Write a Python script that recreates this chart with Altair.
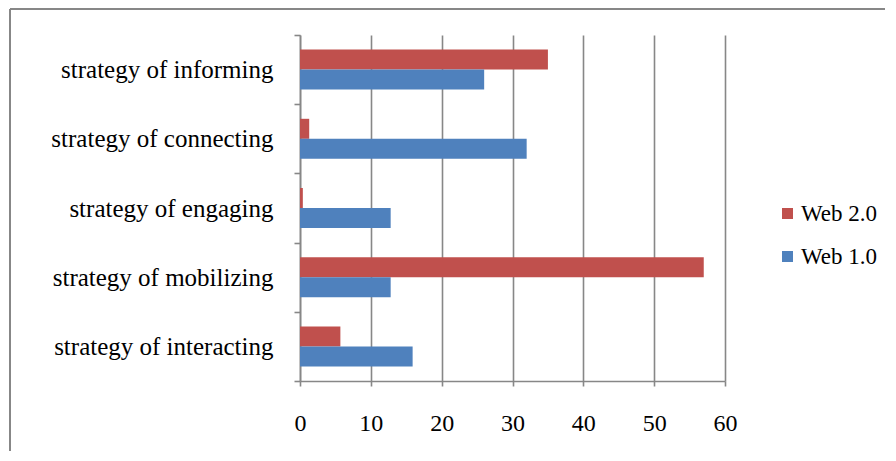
import altair as alt
import pandas as pd

categories = ["strategy of informing", "strategy of connecting", "strategy of engaging",
              "strategy of mobilizing", "strategy of interacting"]
series = ["Web 2.0", "Web 1.0"]
web20 = [35, 1.3, 0.4, 57, 5.7]
web10 = [26, 32, 12.8, 12.8, 15.9]
colors = ["#C0504D", "#4F81BD"]
x_ticks = [0, 10, 20, 30, 40, 50, 60]

rows = []
for c, a, b in zip(categories, web20, web10):
    rows.append({"category": c, "series": "Web 2.0", "value": a})
    rows.append({"category": c, "series": "Web 1.0", "value": b})
df = pd.DataFrame(rows)

FONT = "'Liberation Serif', 'Times New Roman', serif"
GRAY = "#878787"

bars = alt.Chart(df).mark_bar().encode(
    x=alt.X("value:Q",
            scale=alt.Scale(domain=[0, 60], nice=False),
            axis=alt.Axis(values=x_ticks, title=None, grid=True, gridColor=GRAY, gridWidth=1.6,
                          domainColor=GRAY, domainWidth=1.6, tickColor=GRAY, tickWidth=1.6,
                          tickSize=5, labelFontSize=24, labelFont=FONT, labelColor="black",
                          labelPadding=25, labelFlush=False)),
    y=alt.Y("category:N", sort=categories,
            scale=alt.Scale(paddingInner=0, paddingOuter=0),
            axis=alt.Axis(title=None, tickBand="extent", domainColor=GRAY, domainWidth=1.6,
                          tickColor=GRAY, tickWidth=1.6, tickSize=6, labelFontSize=25,
                          labelFont=FONT, labelColor="black", labelPadding=21, labelLimit=400)),
    yOffset=alt.YOffset("series:N", sort=series,
                        scale=alt.Scale(paddingInner=0, paddingOuter=0.73)),
    color=alt.Color("series:N", sort=series,
                    scale=alt.Scale(domain=series, range=colors),
                    legend=alt.Legend(title=None, orient="none", legendX=476, legendY=167,
                                      symbolType="square", symbolSize=121, symbolStrokeWidth=0,
                                      labelFontSize=23, labelFont=FONT, labelColor="black",
                                      rowPadding=19, labelOffset=2, padding=0)),
)

border = alt.Chart(alt.Data(values=[{}])).mark_rule(color=GRAY, strokeWidth=2).encode(
    x=alt.value(-290), y=alt.value(-26), y2=alt.value(460)
)
border_top = alt.Chart(alt.Data(values=[{}])).mark_rule(color=GRAY, strokeWidth=2).encode(
    x=alt.value(-290), x2=alt.value(700), y=alt.value(-26)
)

chart = alt.layer(bars, border, border_top).properties(
    width=425, height=346,
    autosize=alt.AutoSizeParams(type="none"),
    padding={"left": 292, "top": 27, "right": 160, "bottom": 70},
).configure_view(stroke=None)

chart.save("out.html", embed_options={"renderer": "svg", "actions": False})
